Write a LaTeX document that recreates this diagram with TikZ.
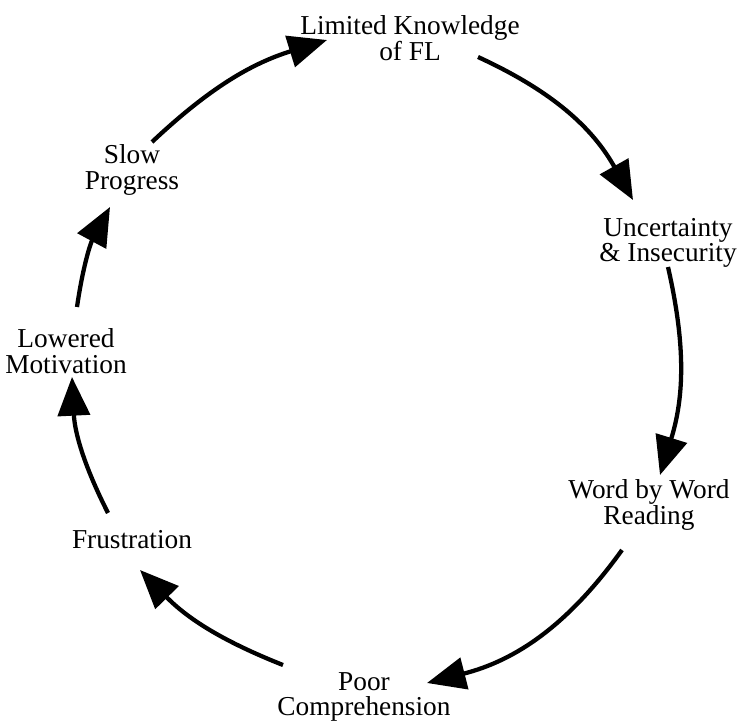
\documentclass[tikz,border=0pt]{standalone}
\usepackage{fontspec}
\setmainfont{Liberation Serif}
\usetikzlibrary{arrows.meta}

\tikzset{
  stage/.style={align=center, inner sep=0.75pt, font=\fontsize{20.5}{19}\selectfont},
  cyclearrow/.style={line width=3.2pt, -{Triangle[length=29pt,width=24pt]}},
}

\begin{document}
\begin{tikzpicture}[x=0.75pt,y=0.75pt,yscale=-1,xscale=1]
\useasboundingbox (0,0) rectangle (740,727);

% stages round the circle
\draw (410,38) node [stage] (know) {Limited Knowledge\\of FL};
\draw (668,243) node [stage] (unsure) {Uncertainty\\\& Insecurity};
\draw (649,505) node [stage] (word) {Word by Word\\Reading};
\draw (364,697) node [stage] (poor) {Poor\\Comprehension};
\draw (132,540) node [stage] (frust) {Frustration};
\draw (66,351) node [stage] (motiv) {Lowered\\Motivation};
\draw (132,170) node [stage] (slow) {Slow\\Progress};

% where the arcs leave and reach
\coordinate (knowout) at (478,57);
\coordinate (unsurein) at (633,200);
\coordinate (unsureout) at (668,267);
\coordinate (wordin) at (660,475);
\coordinate (wordout) at (622,550);
\coordinate (poorin) at (427,683);
\coordinate (poorout) at (283,665);
\coordinate (frustin) at (140,570);
\coordinate (frustout) at (108,513);
\coordinate (motivin) at (72,377);
\coordinate (motivout) at (77,307);
\coordinate (slowin) at (110,207);
\coordinate (slowout) at (152,142);
\coordinate (knowin) at (327,40);

% yscale=-1 mirrors the bend, so "right" bows outwards here
\draw [cyclearrow] (knowout) to [bend right=18] (unsurein);
\draw [cyclearrow] (unsureout) to [bend right=15] (wordin);
\draw [cyclearrow] (wordout) to [bend right=20] (poorin);
\draw [cyclearrow] (poorout) to [bend right=12] (frustin);
\draw [cyclearrow] (frustout) to [bend right=12] (motivin);
\draw [cyclearrow] (motivout) to [bend right=10] (slowin);
\draw [cyclearrow] (slowout) to [bend right=13] (knowin);
\end{tikzpicture}
\end{document}
